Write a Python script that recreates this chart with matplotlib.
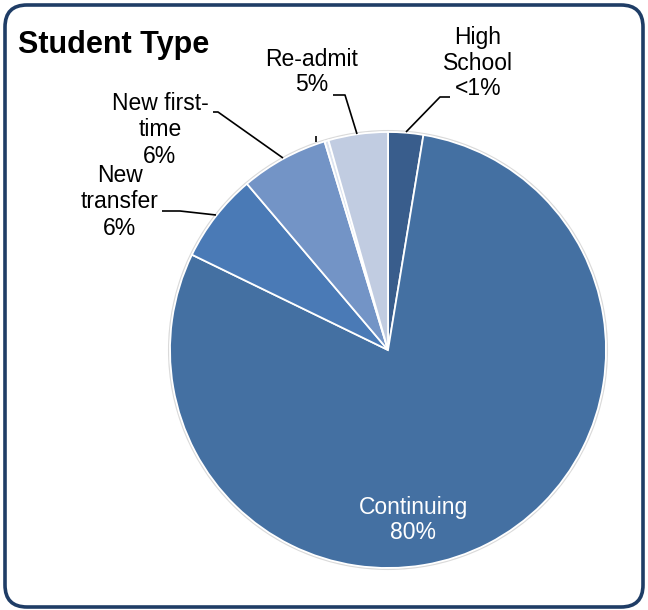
import matplotlib.pyplot as plt
from matplotlib.patches import FancyBboxPatch, Circle

plt.rcParams['font.family'] = ['Liberation Sans', 'DejaVu Sans']

# slices, clockwise from 12 o'clock
categories = ["High School", "Continuing", "New transfer", "New first-time", "Other", "Re-admit"]
shares = [2.6, 79.6, 6.6, 6.5, 0.3, 4.4]
pct_labels = ["<1%", "80%", "6%", "6%", "", "5%"]
colors = ["#395D8C", "#4470A2", "#4A7AB6", "#7394C6", "#DCE3EF", "#C1CCE1"]

W, H = 648, 610
fig = plt.figure(figsize=(W / 100, H / 100), dpi=100)
ax = fig.add_axes([0, 0, 1, 1])

cx, cy, r = 388, H - 350, 218

# faint outline round the pie
ax.add_patch(Circle((cx, cy), r + 1.2, facecolor="none", edgecolor="#DADADA", lw=1.2, zorder=1))
wedges, _ = ax.pie(shares, colors=colors, startangle=90, counterclock=False,
                   center=(cx, cy), radius=r,
                   wedgeprops=dict(edgecolor="white", linewidth=1.3))

ax.set_xlim(0, W)
ax.set_ylim(0, H)
ax.set_aspect("equal")
ax.axis("off")

fs = 16.5
def lbl(x, y, s, color="black", ls=1.12):
    ax.text(x, H - y, s, ha="center", va="center", fontsize=fs, color=color, linespacing=ls)

def leader(xs, ys):
    ax.plot(xs, [H - y for y in ys], color="black", lw=1.2, solid_capstyle="butt", zorder=5)

lbl(478, 63, "High\nSchool\n" + pct_labels[0])
lbl(413, 520, categories[1] + "\n" + pct_labels[1], color="white")
lbl(120, 202, "New\ntransfer\n" + pct_labels[2], ls=1.17)
lbl(160, 130, "New first-\ntime\n" + pct_labels[3], ls=1.2)
lbl(312, 72, categories[5] + "\n" + pct_labels[5])

# leader lines
leader([450, 440, 406], [97, 97, 132])
leader([333, 345, 357], [95, 95, 134])
leader([213, 218, 283], [112, 112, 158])
leader([162, 180, 216], [211, 211, 215])
leader([316, 316], [136, 142])

ax.text(18, H - 45, "Student Type", fontsize=22, fontweight="bold", ha="left", va="center")

frame = FancyBboxPatch((5, 3), W - 10, H - 8, boxstyle="round,pad=0,rounding_size=22",
                       facecolor="none", edgecolor="#1F3D66", lw=2.6, zorder=10)
ax.add_patch(frame)

fig.savefig("out.png", dpi=100)
